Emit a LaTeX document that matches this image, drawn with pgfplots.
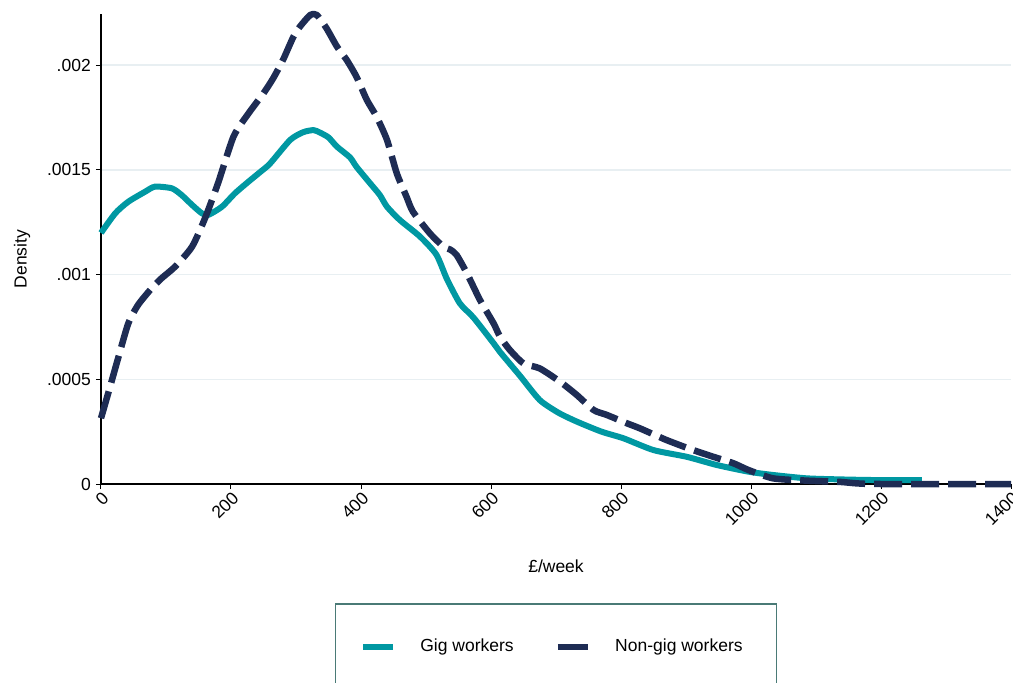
\documentclass[border=0pt]{standalone}
\usepackage{fontspec}
\setmainfont{Liberation Sans}
\usepackage{pgfplots}
\pgfplotsset{compat=1.18}
\definecolor{gigteal}{RGB}{0,152,162}
\definecolor{nonnavy}{RGB}{30,44,84}
\definecolor{gridc}{RGB}{232,239,242}
\definecolor{legbord}{RGB}{74,122,118}
\newcommand{\fs}{\fontsize{17.5}{21}\selectfont}
\begin{document}
\begin{tikzpicture}
\begin{axis}[
  at={(0,0)}, anchor=south west,
  scale only axis, width=910pt, height=470pt,
  xmin=0, xmax=1400, ymin=0, ymax=0.0022445,
  axis x line=bottom, axis y line=left,
  axis line style={-, line width=1.3pt, black},
  clip=false,
  xtick={0,200,400,600,800,1000,1200,1400},
  ytick={0,0.0005,0.001,0.0015,0.002},
  yticklabels={0,.0005,.001,.0015,.002},
  scaled ticks=false,
  /pgf/number format/assume math mode=true,
  /pgf/number format/1000 sep={},
  tick align=outside, major tick length=5pt,
  tick style={line width=1pt, black},
  tick label style={font=\fs},
  xticklabel style={rotate=45, anchor=north east, inner sep=1pt},
  yticklabel style={inner sep=5pt},
  ymajorgrids, grid style={gridc, line width=1.6pt},
  every axis x label/.style={at={(axis description cs:0.5,0)}, yshift=-82pt, anchor=center, font=\fs},
  every axis y label/.style={at={(axis description cs:0,0.5)}, xshift=-79pt, yshift=-10pt, rotate=90, anchor=center, font=\fs},
  xlabel={£/week}, ylabel={Density},
  legend columns=2,
  legend style={at={(axis description cs:0.5,0)}, yshift=-119pt, anchor=north,
    draw=legbord, line width=1.6pt, font=\fs,
    inner xsep=25pt, inner ysep=35pt,
    nodes={inner sep=0pt, text height=12.5pt, text depth=3.5pt},
    /tikz/every odd column/.append style={column sep=24pt},
    /tikz/every even column/.append style={column sep=41pt}},
  legend image code/.code={\draw[#1, solid] (0pt,0pt) -- (30pt,0pt);},
]
\addplot[gigteal, line width=6pt, line join=round, smooth, tension=0.4] coordinates {
(0,0.001199) (22,0.001293) (42,0.001348) (68,0.001396) (83,0.00142) (109,0.001412)
(124,0.00138) (140,0.001333) (155,0.001293) (165,0.001285) (186,0.001324) (206,0.001388)
(227,0.001444) (245,0.00149) (260,0.00153) (291,0.001643) (311,0.00168) (327,0.00169)
(337,0.001678) (350,0.001655) (363,0.001611) (383,0.00156) (393,0.001515) (414,0.001436)
(429,0.00138) (440,0.001324) (460,0.00126) (491,0.001181) (516,0.001095) (532,0.00098)
(552,0.000863) (573,0.000795) (604,0.000672) (614,0.00063) (645,0.000515) (675,0.000401)
(704,0.00034) (732,0.000298) (770,0.00025) (804,0.000218) (850,0.000162) (901,0.00013)
(947,0.000091) (996,0.000059) (1034,0.000043) (1086,0.000027) (1137,0.000022) (1188,0.000019)
(1263,0.000019)
};
\addlegendentry{Gig workers}
\addplot[nonnavy, line width=6.5pt, line join=round, smooth, tension=0.4, dash pattern=on 28pt off 9pt] coordinates {
(0,0.000314) (14,0.000465) (27,0.000608) (42,0.000767) (57,0.000855) (78,0.000935)
(93,0.000982) (114,0.001038) (140,0.001133) (160,0.001269) (180,0.001436) (204,0.00166)
(227,0.00177) (250,0.001866) (265,0.001938) (280,0.002025) (296,0.002136) (306,0.002184)
(322,0.00224) (332,0.00224) (347,0.002176) (363,0.002089) (378,0.002025) (393,0.001945)
(409,0.001834) (424,0.001754) (440,0.001643) (455,0.001484) (470,0.001372) (480,0.0013)
(506,0.001197) (527,0.001133) (537,0.00112) (547,0.001094) (563,0.001006) (583,0.000879)
(604,0.000767) (614,0.000703) (629,0.00064) (650,0.000576) (675,0.000552) (706,0.000489)
(732,0.000425) (758,0.000353) (778,0.00033) (809,0.00029) (829,0.000266) (870,0.00021)
(911,0.000162) (942,0.00013) (973,0.000099) (996,0.000067) (1034,0.000027) (1086,0.000016)
(1137,0.00001) (1163,0.000003) (1200,0) (1400,0)
};
\addlegendentry{Non-gig workers\hspace*{9pt}}
\end{axis}
\pgfresetboundingbox
\useasboundingbox (-101pt,-199pt) rectangle (912pt,484pt);
\end{tikzpicture}
\end{document}
